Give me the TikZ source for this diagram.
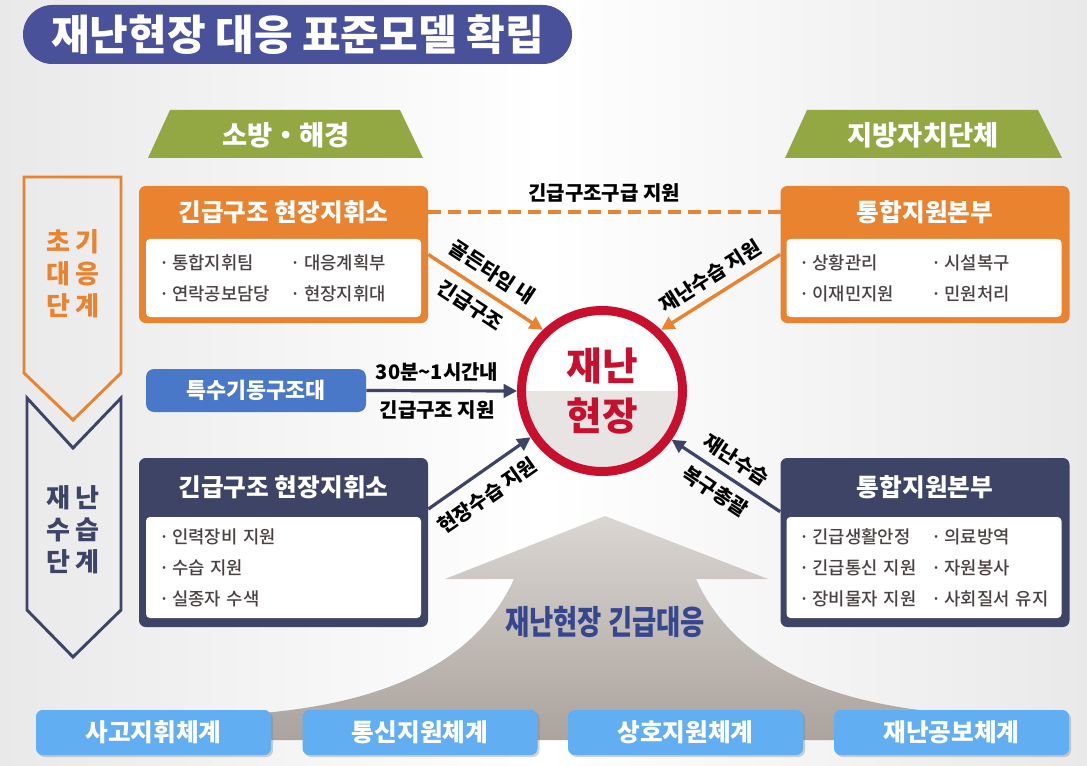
\documentclass[tikz,border=0pt]{standalone}
\usepackage{fontspec}
\usepackage{graphicx}
\setmainfont{Noto Sans CJK KR}
\newfontfamily\itemfont{Noto Sans CJK KR}[UprightFont=* Medium]
\usetikzlibrary{calc, shapes.geometric, arrows.meta, positioning, shadows}
\definecolor{titleblue}{HTML}{4A519B}
\definecolor{fireorange}{HTML}{E9832F}
\definecolor{navybox}{HTML}{3D4466}
\definecolor{unitblue}{HTML}{4A78C8}
\definecolor{sysblue}{HTML}{62AEF2}
\definecolor{agencygreen}{HTML}{93A842}
\definecolor{ringred}{HTML}{C8102E}
\definecolor{itemgray}{HTML}{4A4242}
\definecolor{bignavy}{HTML}{37478F}
\definecolor{scenegray}{HTML}{E8E4E3}
\definecolor{bgside}{HTML}{E9E9E9}
\definecolor{arrowtop}{HTML}{DAD6D2}
\definecolor{arrowbot}{HTML}{ABA39D}

\def\pxu{0.75pt}
\newcommand{\twoitems}[2]{\makebox[99pt][l]{·\,#1}·\,#2}

\tikzset{
  titlepill/.style={fill=titleblue, rounded corners=22pt, minimum width=549*\pxu, minimum height=59*\pxu,
    text=white, font=\bfseries\fontsize{31.5pt}{34pt}\selectfont},
  agency/.style={text=white, inner sep=0pt, font=\bfseries\fontsize{20.5pt}{22pt}\selectfont},
  stageline/.style={line width=2.2pt, line join=miter},
  stagetext/.style={align=center, inner sep=0pt, font=\bfseries\fontsize{19.5pt}{24pt}\selectfont},
  hqbox/.style={rounded corners=5pt, inner sep=0pt, minimum width=289*\pxu},
  hqtitle/.style={text=white, inner sep=0pt, outer sep=0pt, minimum width=289*\pxu,
    font=\bfseries\fontsize{18.5pt}{20pt}\selectfont},
  itembox/.style={fill=white, rounded corners=3pt, inner xsep=13*\pxu, inner ysep=0pt,
    minimum width=275*\pxu, text width=249*\pxu, align=left, text=itemgray,
    font=\itemfont\fontsize{13.3pt}{23.25pt}\selectfont},
  unitbox/.style={fill=unitblue, rounded corners=6pt, minimum width=220*\pxu, minimum height=43*\pxu,
    text=white, font=\bfseries\fontsize{16.3pt}{18pt}\selectfont},
  scene/.style={circle, draw=ringred, line width=6.75pt, fill=white, minimum size=161*\pxu, inner sep=0pt,
    text=ringred, align=center, font=\bfseries\fontsize{29pt}{37pt}\selectfont,
    path picture={\fill[scenegray] (path picture bounding box.west) rectangle (path picture bounding box.south east);}},
  lbl/.style={inner sep=1pt, text=black, font=\bfseries\fontsize{15pt}{17pt}\selectfont},
  oarrow/.style={draw=fireorange, line width=2.6pt, -{Triangle[length=10pt, width=10pt]}},
  narrow/.style={draw=navybox, line width=2.4pt, -{Triangle[length=10pt, width=10pt]}},
  dashline/.style={draw=fireorange, line width=3pt, dash pattern=on 10pt off 5pt},
  bigtext/.style={text=bignavy, inner sep=0pt, font=\bfseries\fontsize{25pt}{27pt}\selectfont},
  sysbox/.style={fill=sysblue, rounded corners=5pt, minimum width=235*\pxu, minimum height=45*\pxu,
    text=white, font=\bfseries\fontsize{18.5pt}{20pt}\selectfont,
    drop shadow={shadow xshift=1.5pt, shadow yshift=-1.5pt, opacity=0.35}}
}

\begin{document}
\begin{tikzpicture}[x=0.75pt, y=-0.75pt]
    % background
    \shade[left color=bgside, right color=bgside, middle color=white] (0,0) rectangle (1087,766);
    \useasboundingbox (0,0) rectangle (1087,766);

    % title
    \node[titlepill] (title) at (297.5,34.5) {재난현장 대응 표준모델 확립};

    % agency labels
    \fill[agencygreen] (148,158) -- (170,110) -- (400,110) -- (423,158) -- cycle;
    \node[agency] (fireAgency) at (286,135) {소방・해경};
    \fill[agencygreen] (785,158) -- (807,110) -- (1038,110) -- (1062,158) -- cycle;
    \node[agency] (localAgency) at (923,135) {지방자치단체};

    % stage markers
    \draw[stageline, fireorange] (24,177) -- (121,177) -- (121,373) -- (73,420) -- (24,373) -- cycle;
    \node[stagetext, text=fireorange] (stageEarly) at (73,274) {초 기\\대 응\\단 계};
    \draw[stageline, navybox] (27,398) -- (73,448) -- (121,398) -- (121,610) -- (73,657) -- (27,610) -- cycle;
    \node[stagetext, text=navybox] (stageRecovery) at (73,530) {재 난\\수 습\\단 계};

    % big upward arrow
    \shade[top color=arrowtop, bottom color=arrowbot] (605,516) -- (768,579) -- (696,579)
        .. controls (735,665) and (830,705) .. (960,714) -- (960,740) -- (250,740) -- (250,714)
        .. controls (380,705) and (475,665) .. (514,579) -- (445,579) -- cycle;
    \node[bigtext] (response) at (605,622) {\scalebox{0.79}[1]{재난현장 긴급대응}};

    % early stage boxes
    \node[hqbox, fill=fireorange, minimum height=137*\pxu] (fireHQ) at (283.5,254.5) {};
    \node[hqtitle] (fireTitle) at (283.5,212.5) {긴급구조 현장지휘소};
    \node[itembox, minimum height=78*\pxu] (fireItems) at (283.5,278)
        {\twoitems{통합지휘팀}{대응계획부}\\\twoitems{연락공보담당}{현장지휘대}};

    \node[hqbox, fill=fireorange, minimum height=137*\pxu] (localHQ) at (925,254.5) {};
    \node[hqtitle] (localTitle) at (925,212.5) {통합지원본부};
    \node[itembox, minimum height=78*\pxu] (localItems) at (924,278)
        {\twoitems{상황관리}{시설복구}\\\twoitems{이재민지원}{민원처리}};

    % recovery stage boxes
    \node[hqbox, fill=navybox, minimum height=169*\pxu] (rescueHQ) at (283.5,542.5) {};
    \node[hqtitle] (rescueTitle) at (283.5,487) {긴급구조 현장지휘소};
    \node[itembox, minimum height=101*\pxu] (rescueItems) at (283.5,567.5)
        {·\,인력장비 지원\\·\,수습 지원\\·\,실종자 수색};

    \node[hqbox, fill=navybox, minimum height=169*\pxu] (supportHQ) at (925,542.5) {};
    \node[hqtitle] (supportTitle) at (925,487) {통합지원본부};
    \node[itembox, minimum height=101*\pxu] (supportItems) at (924,567.5)
        {\twoitems{긴급생활안정}{의료방역}\\\twoitems{긴급통신 지원}{자원봉사}\\\twoitems{장비물자 지원}{사회질서 유지}};

    % special rescue unit
    \node[unitbox] (unit) at (256,390.5) {특수기동구조대};

    % disaster scene
    \node[scene] (scene) at (602,391) {재난\\현장};

    % connectors
    \draw[dashline] (fireTitle.east) -- node[lbl, above=5pt] (dashLbl) {긴급구조구급 지원} (localTitle.west);
    \draw[oarrow] (fireHQ.east) -- node[lbl, sloped, above=6pt, pos=0.46] (goldenLbl) {골든타임 내}
        node[lbl, sloped, below=5pt, pos=0.46] (rescueLbl) {긴급구조} (scene.134);
    \draw[oarrow] (localHQ.west) -- node[lbl, sloped, above=5pt, pos=0.5] (settleLbl) {재난수습 지원} (scene.46);
    \draw[narrow] (unit.east) -- node[lbl, above=5pt, pos=0.47] (timeLbl) {30분\textasciitilde1시간내}
        node[lbl, below=5pt, pos=0.47] (unitLbl) {긴급구조 지원} (scene.180);
    \draw[narrow] (rescueHQ.13) -- node[lbl, sloped, below=8pt, pos=0.45] (siteLbl) {현장수습 지원} (scene.213);
    \draw[narrow] (supportHQ.168) -- node[lbl, sloped, above=5pt, pos=0.5] (restoreLbl) {재난수습}
        node[lbl, sloped, below=5pt, pos=0.5] (overallLbl) {복구총괄} (scene.325);

    % support systems
    \node[sysbox] (sysCommand) at (153.5,732.5) {사고지휘체계};
    \node[sysbox] (sysComm) at (420,732.5) {통신지원체계};
    \node[sysbox] (sysMutual) at (685.5,732.5) {상호지원체계};
    \node[sysbox] (sysPublic) at (951.5,732.5) {재난공보체계};
\end{tikzpicture}
\end{document}
